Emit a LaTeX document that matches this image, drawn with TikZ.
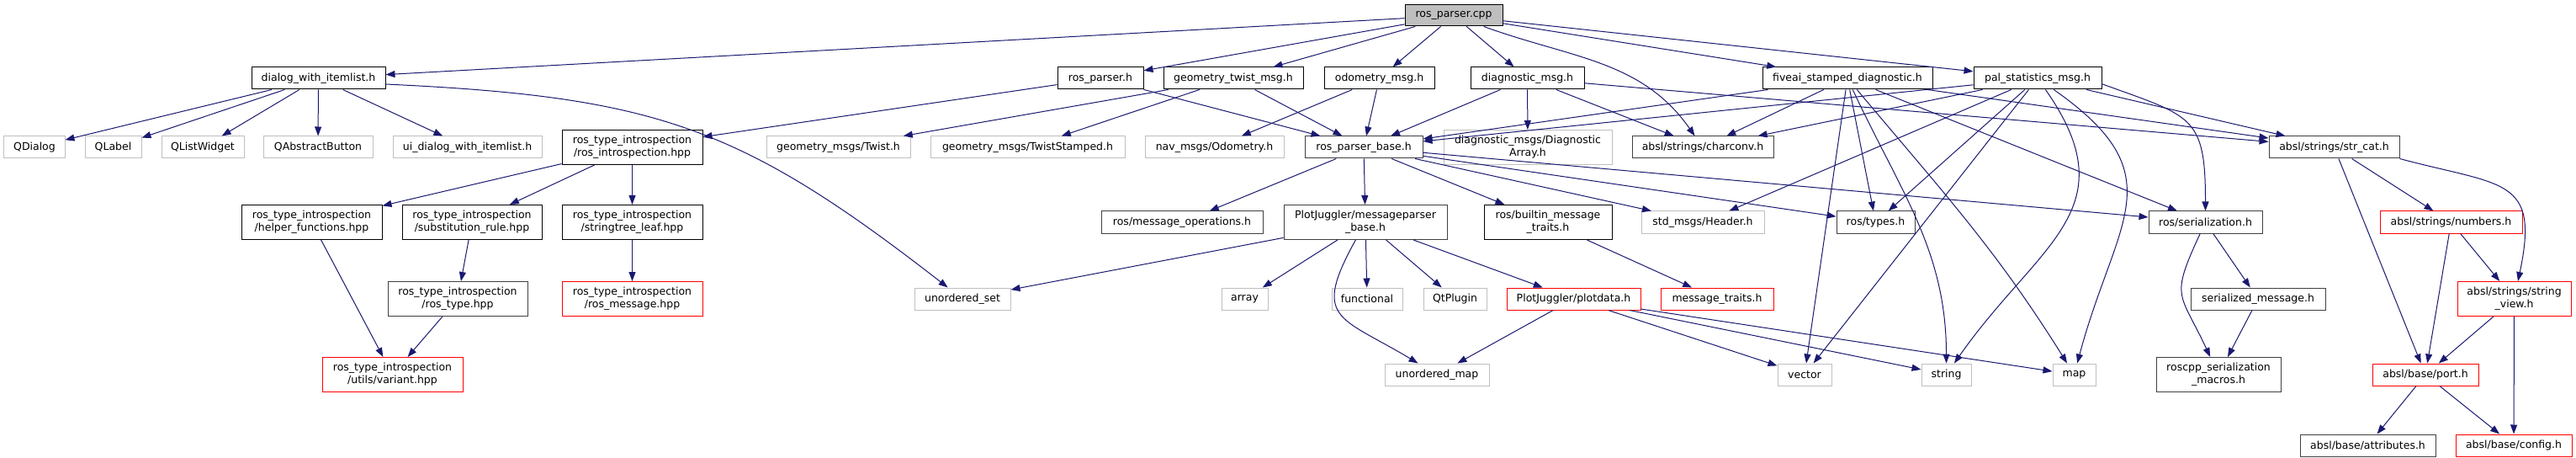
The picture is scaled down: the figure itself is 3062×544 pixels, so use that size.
\documentclass[tikz,border=0pt]{standalone}
\usepackage{fontspec}
\setmainfont{DejaVu Sans}
\usetikzlibrary{arrows.meta}
\definecolor{edgec}{HTML}{191970}
\definecolor{extgray}{HTML}{BFBFBF}
\definecolor{rootgray}{HTML}{BFBFBF}
\definecolor{docgray}{HTML}{404040}
\definecolor{truncred}{HTML}{FF0000}
\newcommand{\dfont}{\fontsize{12.5bp}{15bp}\selectfont}
\tikzset{
  box/.style={draw=black, fill=white, line width=1bp, inner sep=0pt, align=center, font=\dfont, minimum height=26bp},
  boxg/.style={box, draw=docgray},
  ext/.style={box, draw=extgray},
  trunc/.style={box, draw=truncred},
  rootn/.style={box, fill=rootgray},
  htwo/.style={minimum height=41bp},
  dep/.style={draw=edgec, line width=1bp, -{Triangle[length=11bp,width=8bp]}}
}
\begin{document}
\begin{tikzpicture}[x=1bp,y=1bp]
\useasboundingbox (0,0) rectangle (3062,-544);
% row 0
\node[rootn, minimum width=116bp, minimum height=25bp] (root) at (1728,-18.5) {ros\_parser.cpp};
% row 1
\node[box, minimum width=159bp] (dwi) at (378.5,-93) {dialog\_with\_itemlist.h};
\node[box, minimum width=102bp] (rph) at (1308,-93) {ros\_parser.h};
\node[box, minimum width=166bp] (gtm) at (1466,-93) {geometry\_twist\_msg.h};
\node[box, minimum width=131bp] (odo) at (1639.5,-93) {odometry\_msg.h};
\node[box, minimum width=135bp] (dmsg) at (1815.5,-93) {diagnostic\_msg.h};
\node[box, minimum width=202bp] (fivea) at (2196,-93) {fiveai\_stamped\_diagnostic.h};
\node[box, minimum width=152bp] (pal) at (2422,-93) {pal\_statistics\_msg.h};
% row 2
\node[ext, minimum width=72bp] (qdlg) at (41,-175) {QDialog};
\node[ext, minimum width=67bp] (qlbl) at (134.5,-175) {QLabel};
\node[ext, minimum width=98bp] (qlw) at (241,-175) {QListWidget};
\node[ext, minimum width=130bp] (qab) at (378,-175) {QAbstractButton};
\node[ext, minimum width=177bp] (uidlg) at (555.5,-175) {ui\_dialog\_with\_itemlist.h};
\node[box, htwo, minimum width=167bp] (rintro) at (751.5,-175) {ros\_type\_introspection\\/ros\_introspection.hpp};
\node[ext, minimum width=171bp] (twist) at (996.5,-175) {geometry\_msgs/Twist.h};
\node[ext, minimum width=231bp] (twists) at (1221.5,-175) {geometry\_msgs/TwistStamped.h};
\node[ext, minimum width=165bp] (odom) at (1443.5,-175) {nav\_msgs/Odometry.h};
\node[boxg, minimum width=140bp] (rpb) at (1621,-175) {ros\_parser\_base.h};
\node[ext, htwo, minimum width=200bp] (darr) at (1816,-175) {diagnostic\_msgs/Diagnostic\\Array.h};
\node[boxg, minimum width=168bp] (charconv) at (2024,-175) {absl/strings/charconv.h};
\node[boxg, minimum width=155bp] (strcat) at (2774.5,-175) {absl/strings/str\_cat.h};
% row 3
\node[box, htwo, minimum width=167bp] (helper) at (370.5,-264) {ros\_type\_introspection\\/helper\_functions.hpp};
\node[box, htwo, minimum width=166bp] (subst) at (561,-264) {ros\_type\_introspection\\/substitution\_rule.hpp};
\node[box, htwo, minimum width=167bp] (strtree) at (751.5,-264) {ros\_type\_introspection\\/stringtree\_leaf.hpp};
\node[boxg, minimum width=192bp] (msgops) at (1405,-264) {ros/message\_operations.h};
\node[boxg, htwo, minimum width=194bp] (mpb) at (1623,-264) {PlotJuggler/messageparser\\\_base.h};
\node[box, htwo, minimum width=152bp] (builtin) at (1840,-264) {ros/builtin\_message\\\_traits.h};
\node[ext, minimum width=146bp] (header) at (2024,-264) {std\_msgs/Header.h};
\node[boxg, minimum width=93bp] (types) at (2229.5,-264) {ros/types.h};
\node[boxg, minimum width=135bp] (serial) at (2621.5,-264) {ros/serialization.h};
\node[trunc, minimum width=169bp] (numbers) at (2913.5,-264) {absl/strings/numbers.h};
% row 4
\node[boxg, htwo, minimum width=166bp] (rostype) at (544,-355) {ros\_type\_introspection\\/ros\_type.hpp};
\node[trunc, htwo, minimum width=167bp] (rosmsg) at (751.5,-355) {ros\_type\_introspection\\/ros\_message.hpp};
\node[ext, minimum width=114bp] (uset) at (1144,-355) {unordered\_set};
\node[ext, minimum width=55bp] (array) at (1479.5,-355) {array};
\node[ext, minimum width=84bp] (functional) at (1625,-355) {functional};
\node[ext, minimum width=75bp] (qtplugin) at (1729.5,-355) {QtPlugin};
\node[trunc, minimum width=159bp] (plotdata) at (1870.5,-355) {PlotJuggler/plotdata.h};
\node[trunc, minimum width=134bp] (msgtraits) at (2041,-355) {message\_traits.h};
\node[boxg, minimum width=160bp] (serialmsg) at (2684,-355) {serialized\_message.h};
\node[trunc, htwo, minimum width=135bp] (sview) at (2988.5,-355) {absl/strings/string\\\_view.h};
% row 5
\node[trunc, htwo, minimum width=167bp] (variant) at (466.5,-445) {ros\_type\_introspection\\/utils/variant.hpp};
\node[ext, minimum width=124bp] (umap) at (1708,-445) {unordered\_map};
\node[ext, minimum width=64bp] (vector) at (2145,-445) {vector};
\node[ext, minimum width=59bp] (string) at (2313.5,-445) {string};
\node[ext, minimum width=51bp] (map) at (2465.5,-445) {map};
\node[boxg, htwo, minimum width=148bp] (macros) at (2637,-445) {roscpp\_serialization\\\_macros.h};
\node[trunc, minimum width=126bp] (port) at (2883,-445) {absl/base/port.h};
% row 6
\node[boxg, minimum width=161bp] (attrs) at (2814.5,-529) {absl/base/attributes.h};
\node[trunc, minimum width=138bp] (config) at (2988,-529) {absl/base/config.h};
% ---- edges
\draw[dep] (root) -- (dwi);
\draw[dep] (root) -- (rph);
\draw[dep] (root) -- (gtm);
\draw[dep] (root) -- (odo);
\draw[dep] (root) -- (dmsg);
\draw[dep] (root) to[out=-20,in=125] (charconv);
\draw[dep] (root) -- (fivea);
\draw[dep] (root) -- (pal);
\draw[dep] (dwi) -- (qdlg);
\draw[dep] (dwi) -- (qlbl);
\draw[dep] (dwi) -- (qlw);
\draw[dep] (dwi) -- (qab);
\draw[dep] (dwi) -- (uidlg);
\draw[dep] (dwi.-5) .. controls (780,-115) and (880,-150) .. (uset);
\draw[dep] (rph) -- (rintro);
\draw[dep] (rph) -- (rpb);
\draw[dep] (gtm) -- (twist);
\draw[dep] (gtm) -- (twists);
\draw[dep] (gtm) -- (rpb);
\draw[dep] (odo) -- (odom);
\draw[dep] (odo) -- (rpb);
\draw[dep] (dmsg) -- (rpb);
\draw[dep] (dmsg) -- (darr);
\draw[dep] (dmsg) -- (charconv);
\draw[dep] (dmsg) -- (strcat);
\draw[dep] (fivea) -- (rpb);
\draw[dep] (fivea) -- (charconv);
\draw[dep] (fivea) -- (types);
\draw[dep] (fivea) -- (vector);
\draw[dep] (fivea) to[out=-65,in=90] (string);
\draw[dep] (fivea) to[out=-50,in=122] (map);
\draw[dep] (fivea) -- (serial);
\draw[dep] (fivea) -- (strcat);
\draw[dep] (pal) -- (rpb);
\draw[dep] (pal) -- (charconv);
\draw[dep] (pal) -- (header);
\draw[dep] (pal) -- (types);
\draw[dep] (pal) -- (vector);
\draw[dep] (pal) to[out=-55,in=55,looseness=1.3] (string);
\draw[dep] (pal) to[out=-35,in=75,looseness=1.4] (map);
\draw[dep] (pal.-5) to[out=-20,in=90,looseness=1.5] (serial);
\draw[dep] (pal) -- (strcat);
\draw[dep] (rintro) -- (helper);
\draw[dep] (rintro) -- (subst);
\draw[dep] (rintro) -- (strtree);
\draw[dep] (helper) -- (variant);
\draw[dep] (subst) -- (rostype);
\draw[dep] (rostype) -- (variant);
\draw[dep] (strtree) -- (rosmsg);
\draw[dep] (rpb) -- (msgops);
\draw[dep] (rpb) -- (mpb);
\draw[dep] (rpb) -- (builtin);
\draw[dep] (rpb) -- (header);
\draw[dep] (rpb) -- (types);
\draw[dep] (rpb) -- (serial);
\draw[dep] (mpb) -- (uset);
\draw[dep] (mpb) -- (array);
\draw[dep] (mpb) to[out=-119,in=149,looseness=1.7] (umap);
\draw[dep] (mpb) -- (functional);
\draw[dep] (mpb) -- (qtplugin);
\draw[dep] (mpb) -- (plotdata);
\draw[dep] (builtin) -- (msgtraits);
\draw[dep] (plotdata) -- (umap);
\draw[dep] (plotdata) -- (vector);
\draw[dep] (plotdata) -- (string);
\draw[dep] (plotdata) -- (map);
\draw[dep] (serial) -- (serialmsg);
\draw[dep] (serial) to[out=-115,in=115,looseness=1.5] (macros);
\draw[dep] (serialmsg) -- (macros);
\draw[dep] (strcat) -- (numbers);
\draw[dep] (strcat) -- (port);
\draw[dep] (strcat.south east) to[out=-15,in=78,looseness=1.6] (sview);
\draw[dep] (numbers) -- (port);
\draw[dep] (numbers) -- (sview);
\draw[dep] (sview) -- (port);
\draw[dep] (sview) -- (config);
\draw[dep] (port) -- (attrs);
\draw[dep] (port) -- (config);
\end{tikzpicture}
\end{document}
